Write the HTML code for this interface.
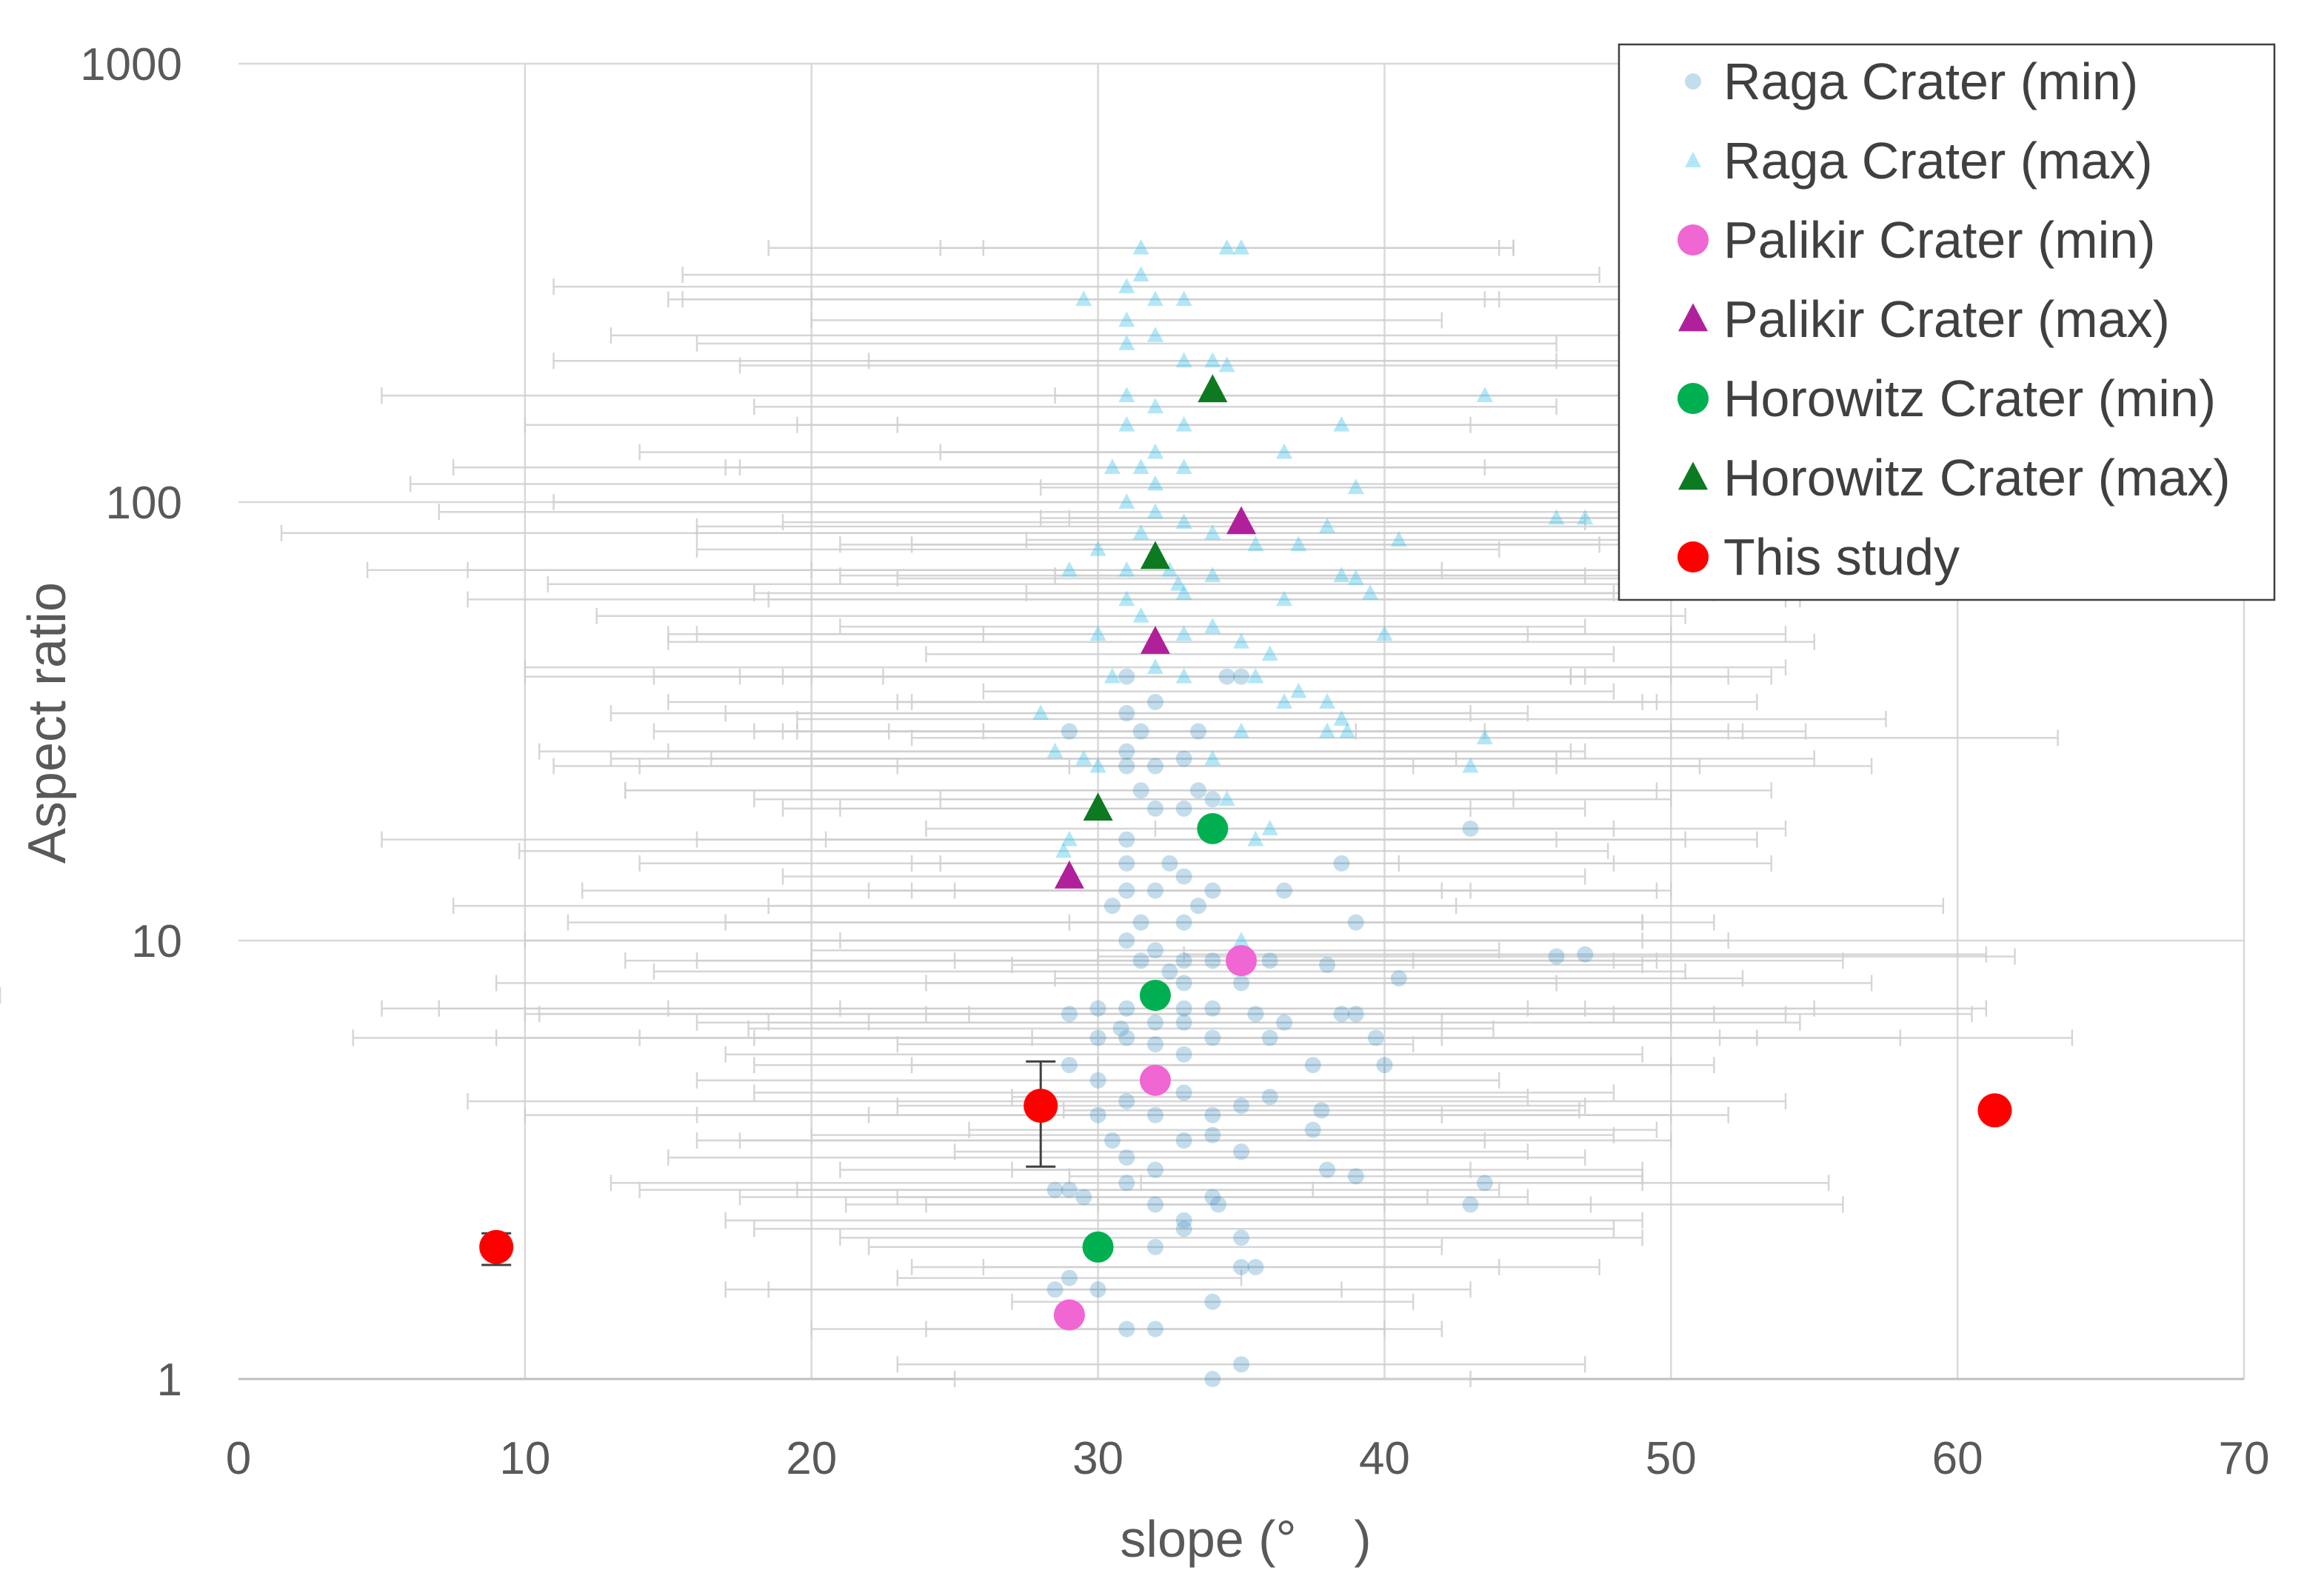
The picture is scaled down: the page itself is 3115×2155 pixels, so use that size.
<!DOCTYPE html>
<html><head><meta charset="utf-8">
<style>
html,body{margin:0;padding:0;background:#fff;}
svg{display:block;font-family:"Liberation Sans",sans-serif;}
</style></head>
<body>
<svg id="chart" width="3115" height="2155" viewBox="0 0 3115 2155" xmlns="http://www.w3.org/2000/svg">
<rect width="3115" height="2155" fill="#fff"/>
<g id="grid"></g>
<g id="errs"></g>
<g id="marks"></g>
<g id="axes"></g>
<text x="0" y="0" transform="translate(88,976) rotate(-90)" text-anchor="middle" font-size="72" fill="#595959">Aspect ratio</text>
<text x="1682" y="2102" text-anchor="middle" font-size="70" fill="#595959">slope (°&#160;&#160;&#160;&#160;)</text>
<g id="legend"></g>
</svg>
<script>
const xTicks=[0,10,20,30,40,50,60,70];
const yTicks=[1,10,100,1000];
const ragaMinX=[31,31.5,31,29,31,32,33,31.5,32,31,32.5,31,30.5,31,32,33,34,33,31,32,31.5,33,34,35,36,31,30,32,33,34,31,32,33,30,29,29,30,31,32,33,34,35,36,30,30.5,31,32,33,34,35,28.5,29,29.5,31,32,33,34,34.2,35,32,33,35,35.5,34,31,32,30,29,28.5,34,35,43,38.5,36.5,39,40.5,46,47,38,38.5,39,39.7,40,37.5,37.8,37.5,38,39,43,43.5,36.5,36,35.5,34,33.5,33,33.5,34.5,35,31,32,33,33,34,31.5,32.5,30.8,33.5,32.2];
const ragaMinY=[33,30,27,30,25,25,26,22,20,17,15,15,12,13,13,14,13,11,10,9.5,9,9,9,8,9,7,7,6.5,6.5,7,6,5.8,5.5,6,6.8,5.2,4.8,4.3,4,4.5,4,4.2,4.4,4,3.5,3.2,3,3.5,3.6,3.3,2.7,2.7,2.6,2.8,2.5,2.3,2.6,2.5,2.1,2.0,2.2,1.8,1.8,1.5,1.3,1.3,1.6,1.7,1.6,1.0,1.08,18,15,13,11,8.2,9.2,9.3,8.8,6.8,6.8,6,5.2,5.2,4.1,3.7,3,2.9,2.5,2.8,6.5,6,6.8,21,22,20,30,40,40,40,35,8,7,6,11,8.5,6.3,12,7.5];
const ragaMinErr=[14,12,16,10,20,9,13,18,11,15,8,17,12,19,10,14,9,16,21,12,18,8,14,11,20,24,15,10,17,13,22,9,16,12,19,11,14,23,10,15,18,12,9,20,13,16,11,17,14,10,9,15,12,18,8,16,11,13,14,10,15,9,12,7,11,8,13,6,10,9,12,11,15,13,10,12,16,14,11,13,15,12,10,14,9,12,11,10,13,12,18,22,25,16,20,14,19,12,15,21,17,24,28,30,20,18,13,26];
const ragaMaxX=[31.5,34.5,35,31.5,31,32,29.5,33,31,32,31,33,34,34.5,31,32,31,33,32,30.5,31.5,33,36.5,38.5,43.5,39,31,32,33,34,35.5,37,38,40.5,46,47,30,29,31,32.5,33,34,36.5,38.5,39,39.5,40,31,31.5,30,33,34,35,36,30.5,32,33,35.5,37,36.5,38,38.5,38,38.7,43.5,43,35,34,28,28.5,29.5,30,29,28.8,36,35.5,34.5,35,32,31.5,32.8];
const ragaMaxY=[380,380,380,330,310,290,290,290,260,240,230,210,210,205,175,165,150,150,130,120,120,120,130,150,175,108,100,95,90,85,80,80,88,82,92,92,78,70,70,70,62,68,60,68,67,62,50,60,55,50,50,52,48,45,40,42,40,40,37,35,35,32,30,30,29,25,30,26,33,27,26,25,17,16,18,17,21,10,110,85,65];
const ragaMaxErr=[13,10,9,16,20,12,14,18,11,19,15,22,12,17,26,14,21,10,18,13,24,16,12,19,15,11,20,25,14,18,12,16,22,13,17,19,14,21,11,28,15,13,18,10,16,12,14,23,19,15,17,13,20,12,16,22,14,18,11,13,15,19,12,16,20,14,17,21,15,18,13,16,24,19,12,15,10,14,26,30,22];
const palMinX=[35,32,29], palMinY=[9,4.8,1.4];
const palMaxX=[35,32,29], palMaxY=[90,48,14];
const horMinX=[34,32,30], horMinY=[18,7.5,2.0];
const horMaxX=[34,32,30], horMaxY=[180,75,20];
const studyX=[9,28,61.3], studyY=[2.0,4.2,4.1];
const studyLo=[1.82,3.05,4.1], studyHi=[2.15,5.3,4.1];
const legendLabels=["Raga Crater (min)","Raga Crater (max)","Palikir Crater (min)","Palikir Crater (max)","Horowitz Crater (min)","Horowitz Crater (max)","This study"];

const X0=322,X1=3030,Y1=1862,Ytop=86;
function sx(v){return X0+(v-0)/(70-0)*(X1-X0);}
function sy(v){return Y1-Math.log10(v)/3*(Y1-Ytop);}
const NS="http://www.w3.org/2000/svg";
function mk(tag,attrs,parent){const e=document.createElementNS(NS,tag);for(const k in attrs)e.setAttribute(k,attrs[k]);parent.appendChild(e);return e;}
const grid=document.getElementById('grid'),errs=document.getElementById('errs'),marks=document.getElementById('marks'),axes=document.getElementById('axes'),legend=document.getElementById('legend');

xTicks.forEach(t=>{
  if(t>0){const l=mk('line',{x1:sx(t),x2:sx(t),y1:Ytop,y2:Y1,stroke:'#d9d9d9','stroke-width':2.5},grid);
  
  }
  const tx=mk('text',{x:sx(t),y:1990,'text-anchor':'middle','font-size':62,fill:'#595959'},axes);
  tx.textContent=t;
  
  
});
yTicks.forEach(t=>{
  const l=mk('line',{x1:X0,x2:X1,y1:sy(t),y2:sy(t),stroke:t==1?'#bfbfbf':'#d9d9d9','stroke-width':t==1?3:2.5},grid);
  
  
  const tx=mk('text',{x:246,y:sy(t)+22,'text-anchor':'end','font-size':62,fill:'#595959'},axes);
  tx.textContent=t;
  
  
});

function hErr(x,y,e){
  const a=sx(Math.max(0,x-e)),b=sx(Math.min(70,x+e)),yy=sy(y);
  const g=mk('g',{stroke:'#cfcfcf','stroke-width':2.5,opacity:0.85},errs);
  
  
  mk('line',{x1:a,x2:b,y1:yy,y2:yy},g);
  mk('line',{x1:a,x2:a,y1:yy-11,y2:yy+11},g);
  mk('line',{x1:b,x2:b,y1:yy-11,y2:yy+11},g);
}
ragaMinX.forEach((x,i)=>hErr(x,ragaMinY[i],ragaMinErr[i]));
ragaMaxX.forEach((x,i)=>hErr(x,ragaMaxY[i],ragaMaxErr[i]));

function circle(cx,cy,r,fill,op,parent){return mk('circle',{cx:cx,cy:cy,r:r,fill:fill,'fill-opacity':op},parent);}
function tri(cx,cy,s,fill,op,parent){const h=s*0.9;return mk('polygon',{points:`${cx},${cy-h*0.6} ${cx-s/2},${cy+h*0.45} ${cx+s/2},${cy+h*0.45}`,fill:fill,'fill-opacity':op},parent);}

ragaMaxX.forEach((x,i)=>{const p=tri(sx(x),sy(ragaMaxY[i]),22,'#3ec3ee',0.4,marks);
  
  });
ragaMinX.forEach((x,i)=>{const p=circle(sx(x),sy(ragaMinY[i]),11,'#3a8fc4',0.3,marks);
  
  });
palMaxX.forEach((x,i)=>{const p=tri(sx(x),sy(palMaxY[i]),40,'#b0209a',1,marks);
  
  });
horMaxX.forEach((x,i)=>{const p=tri(sx(x),sy(horMaxY[i]),40,'#0d7a22',1,marks);
  
  });
palMinX.forEach((x,i)=>{const p=circle(sx(x),sy(palMinY[i]),21,'#f066d2',1,marks);
  
  });
horMinX.forEach((x,i)=>{const p=circle(sx(x),sy(horMinY[i]),21,'#00b050',1,marks);
  
  });
studyX.forEach((x,i)=>{
  if(studyHi[i]>studyLo[i]){const g=mk('g',{stroke:'#404040','stroke-width':3},marks);
    
    
    const cx=sx(x),a=sy(studyLo[i]),b=sy(studyHi[i]);
    mk('line',{x1:cx,x2:cx,y1:a,y2:b},g);
    mk('line',{x1:cx-20,x2:cx+20,y1:a,y2:a},g);
    mk('line',{x1:cx-20,x2:cx+20,y1:b,y2:b},g);}
  const p=circle(sx(x),sy(studyY[i]),23,'#ff0000',1,marks);
  
  
});

// legend
const lb=mk('rect',{x:2186,y:60,width:885,height:750,fill:'#fff',stroke:'#404040','stroke-width':2.5},legend);


legendLabels.forEach((lab,i)=>{
  const y=110+i*107;
  const g=mk('g',{},legend);
  
  
  if(i==0)circle(2286,y,11,'#3a8fc4',0.3,g);
  if(i==1)tri(2286,y,22,'#3ec3ee',0.4,g);
  if(i==2)circle(2286,y,21,'#f066d2',1,g);
  if(i==3)tri(2286,y,40,'#b0209a',1,g);
  if(i==4)circle(2286,y,21,'#00b050',1,g);
  if(i==5)tri(2286,y,40,'#0d7a22',1,g);
  if(i==6)circle(2286,y,21,'#ff0000',1,g);
  const t=mk('text',{x:2327,y:y+24,'font-size':70,fill:'#404040'},g);
  t.textContent=lab;
});
</script>
</body></html>
